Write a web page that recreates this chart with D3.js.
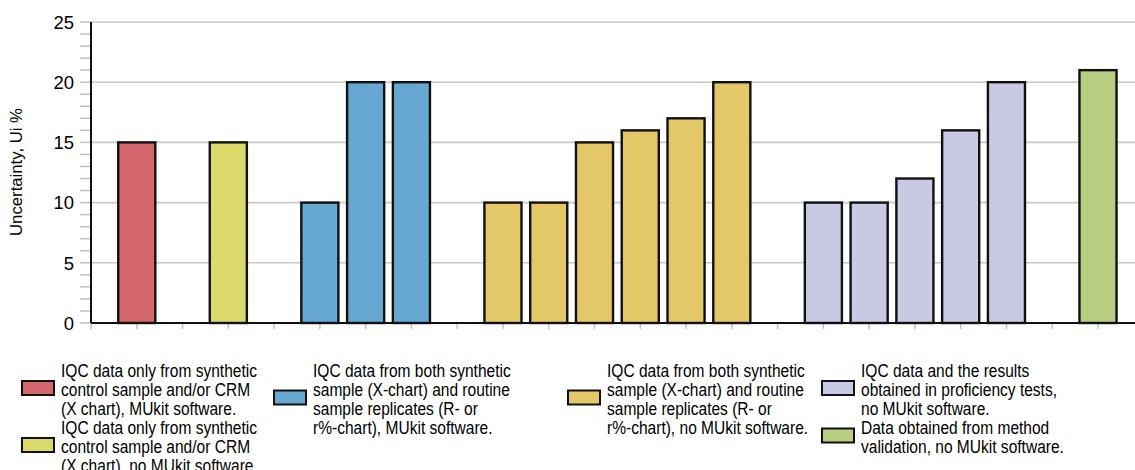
<!DOCTYPE html>
<html>
<head>
<meta charset="utf-8">
<script src="https://cdn.jsdelivr.net/npm/d3@7"></script>
<style>
  html, body { margin: 0; padding: 0; background: #fff; }
  svg { display: block; font-family: "Liberation Sans", Arial, sans-serif; }
</style>
</head>
<body>
<svg id="chart" width="1135" height="470"></svg>
<script>
// ---- data ----
const categories = ["A1","gap1","B1","gap2","C1","C2","C3","gap3","D1","D2","D3","D4","D5","D6","gap4","E1","E2","E3","E4","E5","gap5","F1"];
const values     = [15, null, 15, null, 10, 20, 20, null, 10, 10, 15, 16, 17, 20, null, 10, 10, 12, 16, 20, null, 21];
const groupOf    = [0, null, 1, null, 2, 2, 2, null, 3, 3, 3, 3, 3, 3, null, 4, 4, 4, 4, 4, null, 5];
const groupColors = ["#d4676d", "#dcd96b", "#66a8d1", "#e4c766", "#c8cae4", "#b8cd82"];
const yTicks = [0, 5, 10, 15, 20, 25];
const yTitle = "Uncertainty, Ui %";
const legendLines = [
  ["IQC data only from synthetic", "control sample and/or CRM", "(X chart), MUkit software."],
  ["IQC data only from synthetic", "control sample and/or CRM", "(X chart), no MUkit software."],
  ["IQC data from both synthetic", "sample (X-chart) and routine", "sample replicates (R- or", "r%-chart), MUkit software."],
  ["IQC data from both synthetic", "sample (X-chart) and routine", "sample replicates (R- or", "r%-chart), no MUkit software."],
  ["IQC data and the results", "obtained in proficiency tests,", "no MUkit software."],
  ["Data obtained from method", "validation, no MUkit software."]
];
// legend layout: [column, row-offset in lines]
const legendPlace = [[0,0],[0,3],[1,0],[2,0],[3,0],[3,3]];

// ---- layout ----
const svg = d3.select("#chart");
const pL = 91, pR = 1135, pT = 22, pB = 323;

const x = d3.scalePoint().domain(["_start", ...categories]).range([pL, 1098]);
const step = x.step();
const barW = step * 0.81;
const y = d3.scaleLinear().domain([0, 25]).range([pB, pT]);

// gridlines
svg.append("g").selectAll("line").data(yTicks.filter(d => d > 0)).join("line")
  .attr("x1", pL).attr("x2", pR)
  .attr("y1", d => y(d)).attr("y2", d => y(d))
  .attr("stroke", "#c8c8c8").attr("stroke-width", 1.6);

// minor y ticks (every unit)
svg.append("g").selectAll("line").data(d3.range(0, 26)).join("line")
  .attr("x1", pL - 11).attr("x2", pL)
  .attr("y1", d => y(d)).attr("y2", d => y(d))
  .attr("stroke", "#bdbdbd").attr("stroke-width", 1.4);

// y tick labels
svg.append("g").selectAll("text").data(yTicks).join("text")
  .attr("x", 74).attr("y", d => y(d) + 6.7)
  .attr("text-anchor", "end")
  .attr("font-size", 18.5).attr("fill", "#000")
  .text(d => d);

// x ticks
svg.append("g").selectAll("line").data(x.domain()).join("line")
  .attr("x1", d => x(d)).attr("x2", d => x(d))
  .attr("y1", pB).attr("y2", pB + 6)
  .attr("stroke", "#bdbdbd").attr("stroke-width", 1.4);

// bars
const barData = categories.map((c, i) => ({c, v: values[i], g: groupOf[i]})).filter(d => d.v != null);
svg.append("g").selectAll("rect").data(barData).join("rect")
  .attr("x", d => x(d.c) - barW / 2)
  .attr("width", barW)
  .attr("y", d => y(d.v))
  .attr("height", d => y(0) - y(d.v))
  .attr("fill", d => groupColors[d.g])
  .attr("stroke", "#111").attr("stroke-width", 2.4);

// axes lines
svg.append("line").attr("x1", pL).attr("x2", pL).attr("y1", pT).attr("y2", pB)
  .attr("stroke", "#111").attr("stroke-width", 2);
svg.append("line").attr("x1", pL).attr("x2", pR).attr("y1", pB).attr("y2", pB)
  .attr("stroke", "#111").attr("stroke-width", 2);

// y title
svg.append("text")
  .attr("transform", "translate(22,172) rotate(-90)")
  .attr("text-anchor", "middle")
  .attr("font-size", 16).attr("fill", "#000")
  .attr("textLength", 128).attr("lengthAdjust", "spacingAndGlyphs")
  .text(yTitle);

// legend
const colSwatchX = [22, 274, 568, 822];
const lineH = 19;
const firstBase = 377;
const lg = svg.append("g");
legendLines.forEach((lines, i) => {
  const [col, rowOff] = legendPlace[i];
  const b0 = firstBase + rowOff * lineH;
  const bN = b0 + (lines.length - 1) * lineH;
  const cy = (b0 - 13 + bN) / 2 - 1.5;
  lg.append("rect")
    .attr("x", colSwatchX[col]).attr("y", cy - 7)
    .attr("width", 32).attr("height", 14)
    .attr("fill", groupColors[i]).attr("stroke", "#111").attr("stroke-width", 2);
  const t = lg.append("text")
    .attr("transform", `translate(${colSwatchX[col] + 39},0) scale(0.84,1)`)
    .attr("font-size", 18.5).attr("fill", "#000");
  lines.forEach((ln, k) => {
    t.append("tspan").attr("x", 0).attr("y", b0 + k * lineH).text(ln);
  });
});
</script>
</body>
</html>
